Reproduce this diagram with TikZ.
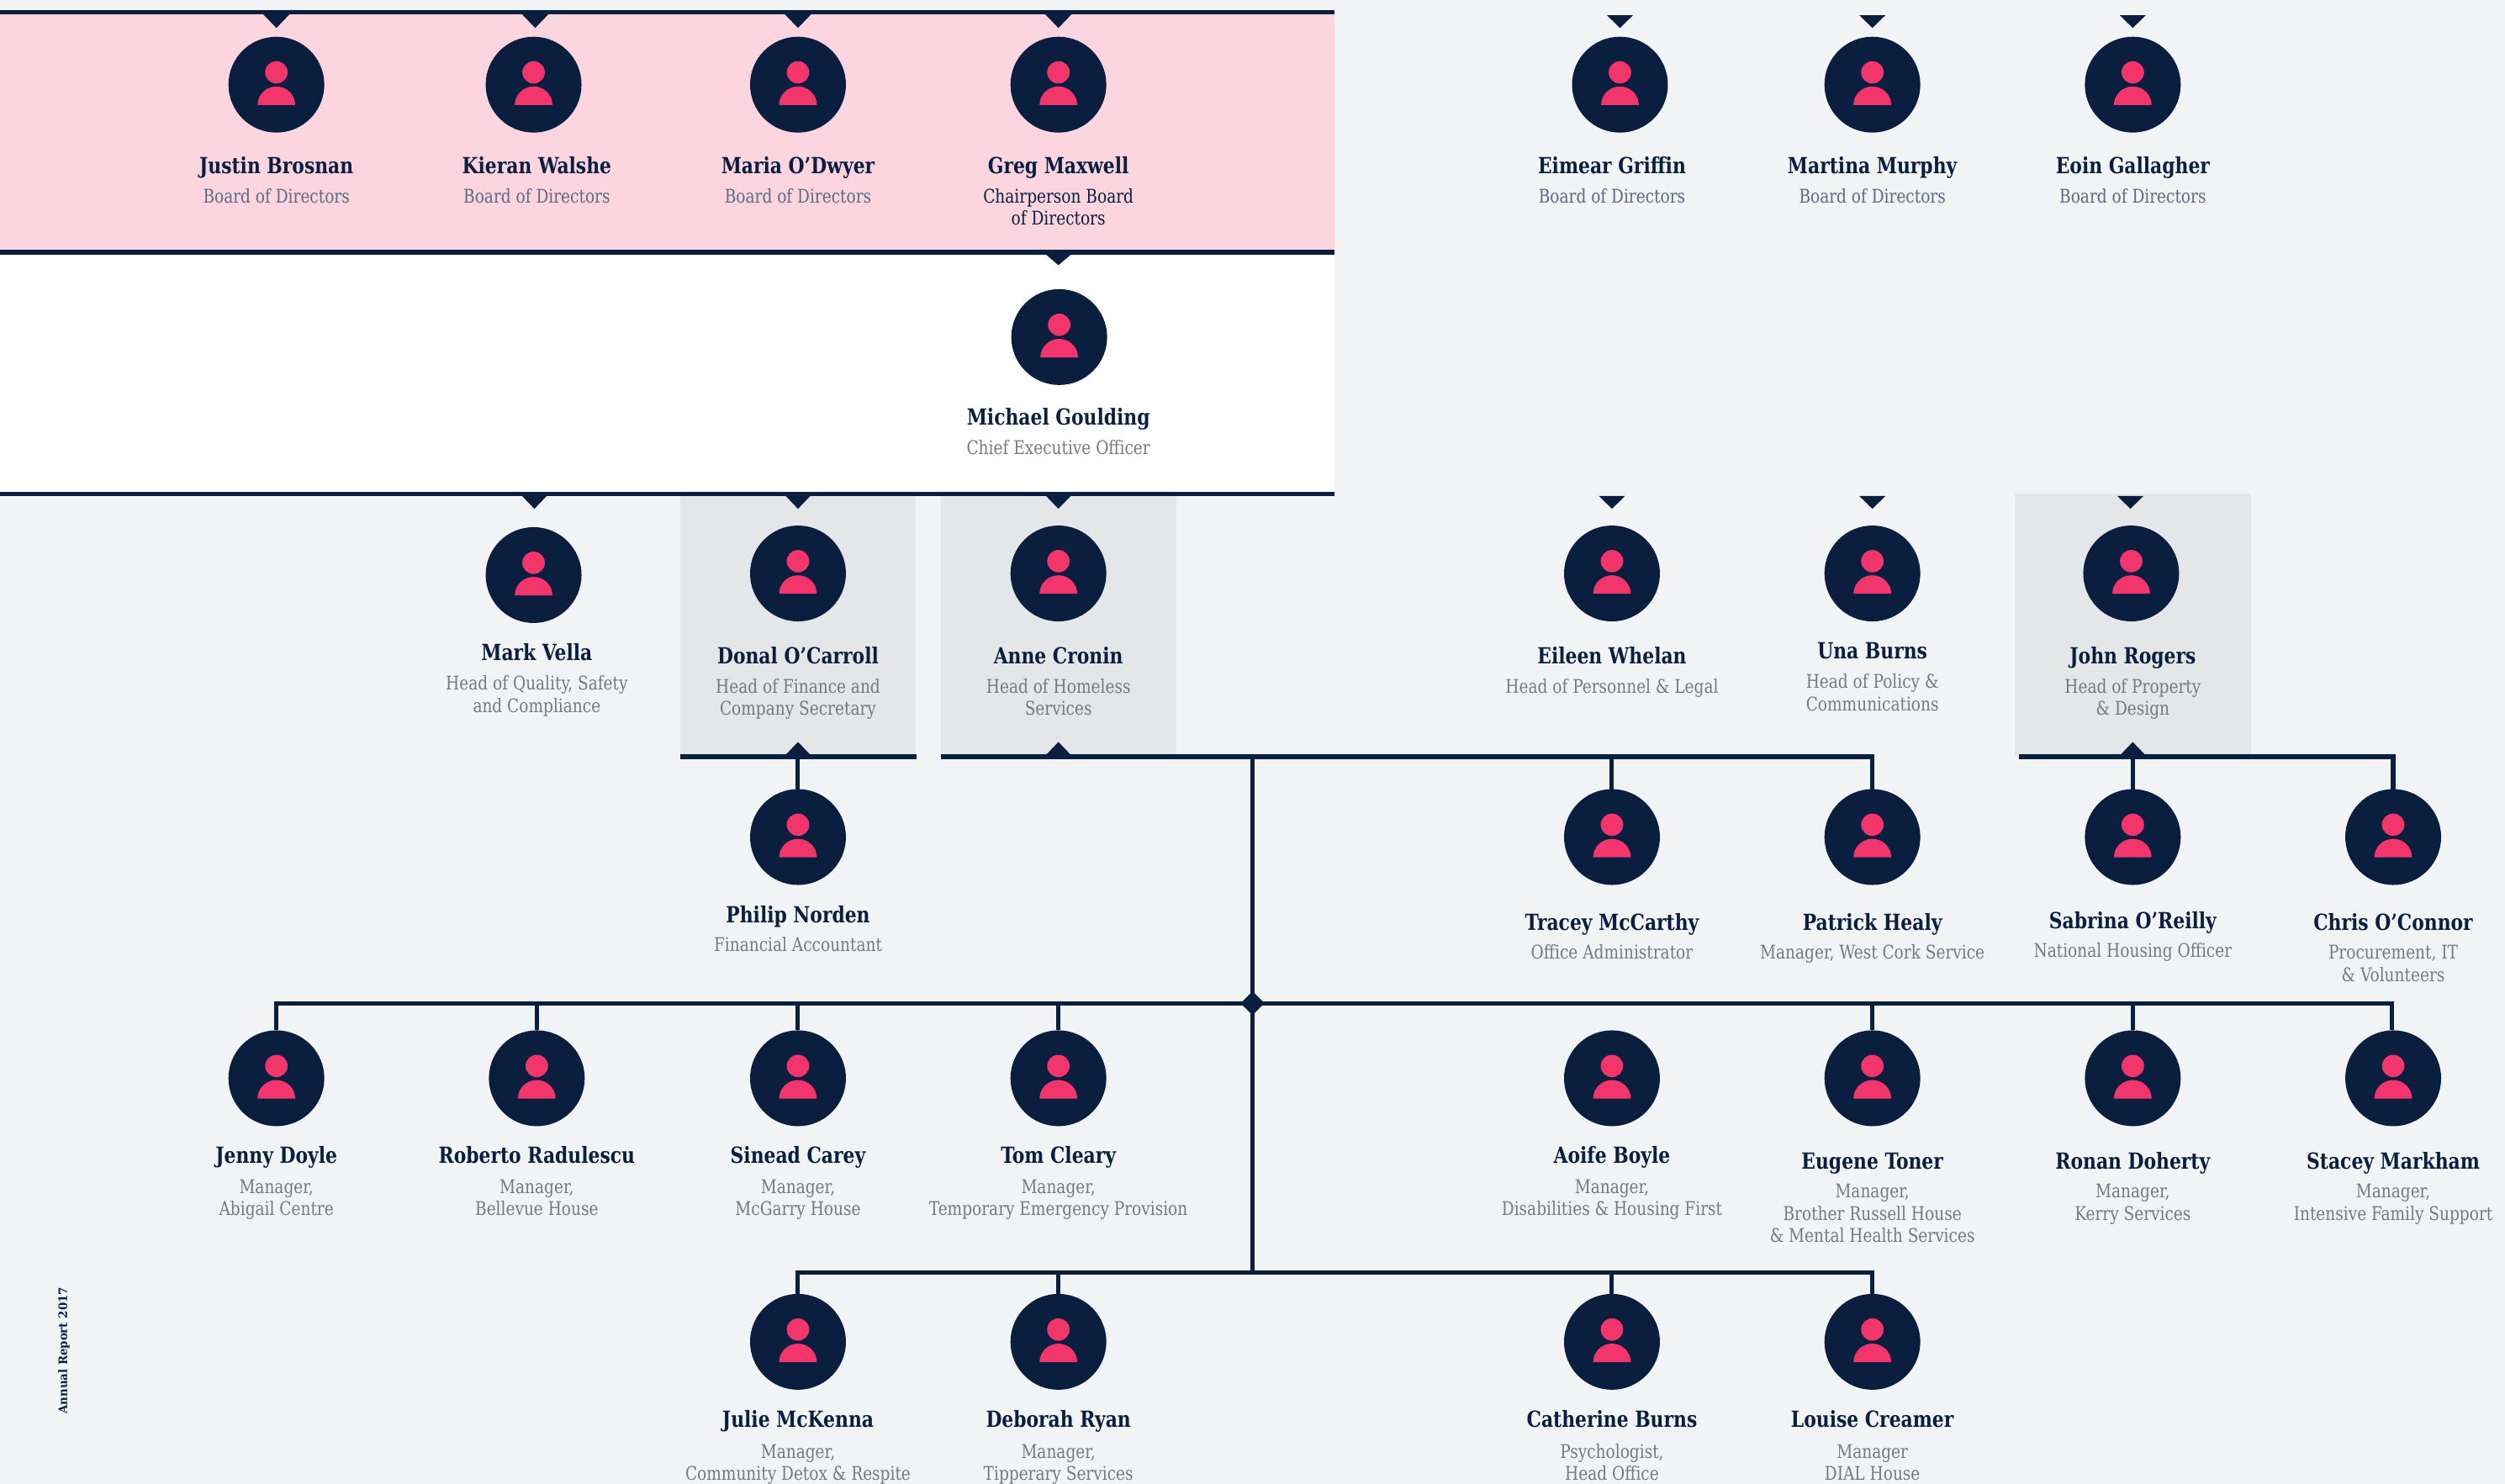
\documentclass[tikz,border=0pt]{standalone}
\usepackage{fontspec}
\setmainfont{DejaVu Serif Condensed}[FakeStretch=0.92]
\newfontfamily\footfont{DejaVu Serif Condensed}[FakeStretch=1.06]
\definecolor{navy}{HTML}{0A1F40}
\definecolor{rosy}{HTML}{F2356A}
\definecolor{blush}{HTML}{FDD5DF}
\definecolor{paper}{HTML}{F1F3F5}
\definecolor{panel}{HTML}{E4E6E8}
\definecolor{subgrey}{HTML}{77797C}
\definecolor{subblue}{HTML}{5C6A85}
\tikzset{
  x=1.9pt,y=-1.9pt,
  disc/.style={circle,fill=navy,minimum size=114pt,inner sep=0pt,outer sep=0pt},
  nametext/.style={font=\fontsize{26.4}{30}\selectfont\bfseries,text=navy,inner sep=0pt,anchor=base},
  subtext/.style={font=\fontsize{22.4}{26.3}\selectfont,text=subgrey,inner sep=0pt,anchor=base},
  rail/.style={draw=navy,line width=5.6pt},
  link/.style={draw=navy,line width=5pt},
  tipmark/.style={fill=navy},
}
\newcommand{\titleblock}[1]{\vtop{\halign{\hfil##\hfil\cr#1\crcr}}}
% \person{id}{cx}{cy}{textx}{name baseline}{title baseline}{name}{title}{title colour}
\newcommand{\person}[9]{%
  \node[disc] (#1) at (#2,#3) {};
  \fill[rosy] (#2,#3) ++(0,-7.7) ellipse [x radius=13.4pt,y radius=13.3pt];
  \fill[rosy] (#2,#3) ++(-11.8,12.7) arc [start angle=180,end angle=0,x radius=22.4pt,y radius=22pt] -- cycle;
  \node[nametext] (#1n) at (#4,#5) {#7};
  \node[subtext,text=#9] (#1t) at (#4,#6) {\titleblock{#8}};
}
\newcommand{\tipdown}[3]{\fill[tipmark] (#1,#2) ++(-8.2,0) -- ++(16.4,0) -- (#1,#3) -- cycle;}
\newcommand{\tipup}[3]{\fill[tipmark] (#1,#2) ++(-8.2,0) -- ++(16.4,0) -- (#1,#3) -- cycle;}
\begin{document}
\begin{tikzpicture}
\useasboundingbox (0,0) rectangle (1568,929);
\fill[paper] (0,0) rectangle (1568,929);
\fill[blush] (0,8) rectangle (835.5,158);
\fill[white] (0,158) rectangle (835.5,309);
\fill[panel] (426,309) rectangle (573,473);
\fill[panel] (589,309) rectangle (736.5,473);
\fill[panel] (1261,309) rectangle (1409,473);
% rails
\coordinate (r1a) at (0,7.7); \coordinate (r1b) at (835.5,7.7);
\coordinate (r2a) at (0,157.9); \coordinate (r2b) at (835.5,157.9);
\coordinate (r3a) at (0,309.2); \coordinate (r3b) at (835.5,309.2);
\draw[rail] (r1a) -- (r1b);
\draw[rail] (r2a) -- (r2b);
\draw[rail] (r3a) -- (r3b);
% people
\person{jb}{173}{53}{173}{108.5}{127}{Justin Brosnan}{Board of Directors}{subblue}
\person{kw}{334}{53}{336}{108.5}{127}{Kieran Walshe}{Board of Directors}{subblue}
\person{mo}{499.5}{53}{499.5}{108.5}{127}{Maria O'Dwyer}{Board of Directors}{subblue}
\person{gm}{662.5}{53}{662.5}{108.5}{127}{Greg Maxwell}{Chairperson Board\cr of Directors}{navy}
\person{eg}{1014}{53}{1009}{108.5}{127}{Eimear Griffin}{Board of Directors}{subblue}
\person{mm}{1172}{53}{1172}{108.5}{127}{Martina Murphy}{Board of Directors}{subblue}
\person{eo}{1335}{53}{1335}{108.5}{127}{Eoin Gallagher}{Board of Directors}{subblue}
\person{mg}{663}{211}{662.5}{266}{284.5}{Michael Goulding}{Chief Executive Officer}{subgrey}
\person{mv}{334}{360}{336}{413.5}{432}{Mark Vella}{Head of Quality, Safety\cr and Compliance}{subgrey}
\person{dc}{499.5}{359}{499.5}{415.5}{434}{Donal O'Carroll}{Head of Finance and\cr Company Secretary}{subgrey}
\person{ac}{662.5}{359}{662.5}{415.5}{434}{Anne Cronin}{Head of Homeless\cr Services}{subgrey}
\person{ew}{1009}{359}{1009}{415.5}{434}{Eileen Whelan}{Head of Personnel \& Legal}{subgrey}
\person{ub}{1172}{359}{1172}{412.5}{431}{Una Burns}{Head of Policy \&\cr Communications}{subgrey}
\person{jr}{1334}{359}{1335}{415.5}{434}{John Rogers}{Head of Property\cr \& Design}{subgrey}
\person{pn}{499.5}{524}{499.5}{577.5}{595.5}{Philip Norden}{Financial Accountant}{subgrey}
\person{tm}{1009}{524}{1009}{582.5}{600.5}{Tracey McCarthy}{Office Administrator}{subgrey}
\person{ph}{1172}{524}{1172}{582.5}{600.5}{Patrick Healy}{Manager, West Cork Service}{subgrey}
\person{so}{1335}{524}{1335}{581.5}{599.5}{Sabrina O'Reilly}{National Housing Officer}{subgrey}
\person{co}{1498}{524}{1498}{582.5}{600.5}{Chris O'Connor}{Procurement, IT\cr \& Volunteers}{subgrey}
\person{jd}{173}{675}{173}{728}{747}{Jenny Doyle}{Manager,\cr Abigail Centre}{subgrey}
\person{rr}{336}{675}{336}{728}{747}{Roberto Radulescu}{Manager,\cr Bellevue House}{subgrey}
\person{sc}{499.5}{675}{499.5}{728}{747}{Sinead Carey}{Manager,\cr McGarry House}{subgrey}
\person{tc}{662.5}{675}{662.5}{728}{747}{Tom Cleary}{Manager,\cr Temporary Emergency Provision}{subgrey}
\person{ab}{1009}{675}{1009}{728}{747}{Aoife Boyle}{Manager,\cr Disabilities \& Housing First}{subgrey}
\person{et}{1172}{675}{1172}{732}{750}{Eugene Toner}{Manager,\cr Brother Russell House\cr \& Mental Health Services}{subgrey}
\person{rd}{1335}{675}{1335}{732}{750}{Ronan Doherty}{Manager,\cr Kerry Services}{subgrey}
\person{sm}{1498}{675}{1498}{732}{750}{Stacey Markham}{Manager,\cr Intensive Family Support}{subgrey}
\person{jk}{499.5}{840}{499.5}{893.5}{913}{Julie McKenna}{Manager,\cr Community Detox \& Respite}{subgrey}
\person{dr}{662.5}{840}{662.5}{893.5}{913}{Deborah Ryan}{Manager,\cr Tipperary Services}{subgrey}
\person{cb}{1009}{840}{1009}{893.5}{913}{Catherine Burns}{Psychologist,\cr Head Office}{subgrey}
\person{lc}{1172}{840}{1172}{893.5}{913}{Louise Creamer}{Manager\cr DIAL House}{subgrey}
% downward tips
\tipdown{173}{9}{17.5}\tipdown{335}{9}{17.5}\tipdown{499.5}{9}{17.5}\tipdown{662.5}{9}{17.5}
\tipdown{1014}{9.5}{17.5}\tipdown{1172}{9.5}{17.5}\tipdown{1335}{9.5}{17.5}
\tipdown{662.5}{159}{166}
\tipdown{334.5}{310}{318.5}\tipdown{499.5}{310}{318.5}\tipdown{662.5}{310}{318.5}
\tipdown{1009}{310.5}{318.5}\tipdown{1172}{310.5}{318.5}\tipdown{1333.5}{310.5}{318.5}
% upward tips
\tipup{499.5}{473}{464.5}\tipup{662.5}{473}{464.5}\tipup{1335}{473}{464.5}
% connector skeleton
\coordinate (b1a) at (426,473.8); \coordinate (b1b) at (573.5,473.8);
\coordinate (b2a) at (589,473.8); \coordinate (b2r) at (1172,473.8);
\coordinate (b3a) at (1264,473.8); \coordinate (b3r) at (1498,473.8);
\coordinate (spineTop) at (784,473.8);
\coordinate (spineBot) at (784,796.5);
\coordinate (hub) at (784,628);
\draw[rail] (b1a) -- (b1b);
\draw[rail] (b2a) -- (b2r) -- (ph.north);
\draw[rail] (b3a) -- (b3r) -- (co.north);
\draw[link] (spineTop) -- (spineBot);
\draw[link] (dc.south |- b1a) -- (pn.north);
\draw[link] (tm.north |- b2a) -- (tm.north);
\draw[link] (so.north |- b3a) -- (so.north);
\draw[link] (jd.north) |- (hub) -| ([xshift=-2pt]sm.north);
\draw[link] (rr.north) -- (rr.north |- hub);
\draw[link] (sc.north) -- (sc.north |- hub);
\draw[link] (tc.north) -- (tc.north |- hub);
\draw[link] (et.north) -- (et.north |- hub);
\draw[link] (rd.north) -- (rd.north |- hub);
\draw[link] (jk.north) |- (spineBot) -| (lc.north);
\draw[link] (dr.north) -- (dr.north |- spineBot);
\draw[link] (cb.north) -- (cb.north |- spineBot);
\node[fill=navy,minimum size=20pt,inner sep=0pt,rotate=45] (hubmark) at (hub) {};
\node[rotate=90,font=\footfont\fontsize{14}{16}\selectfont\bfseries,text=navy,inner sep=0pt] (foot) at (40,845.5) {Annual Report 2017};
\end{tikzpicture}
\end{document}
